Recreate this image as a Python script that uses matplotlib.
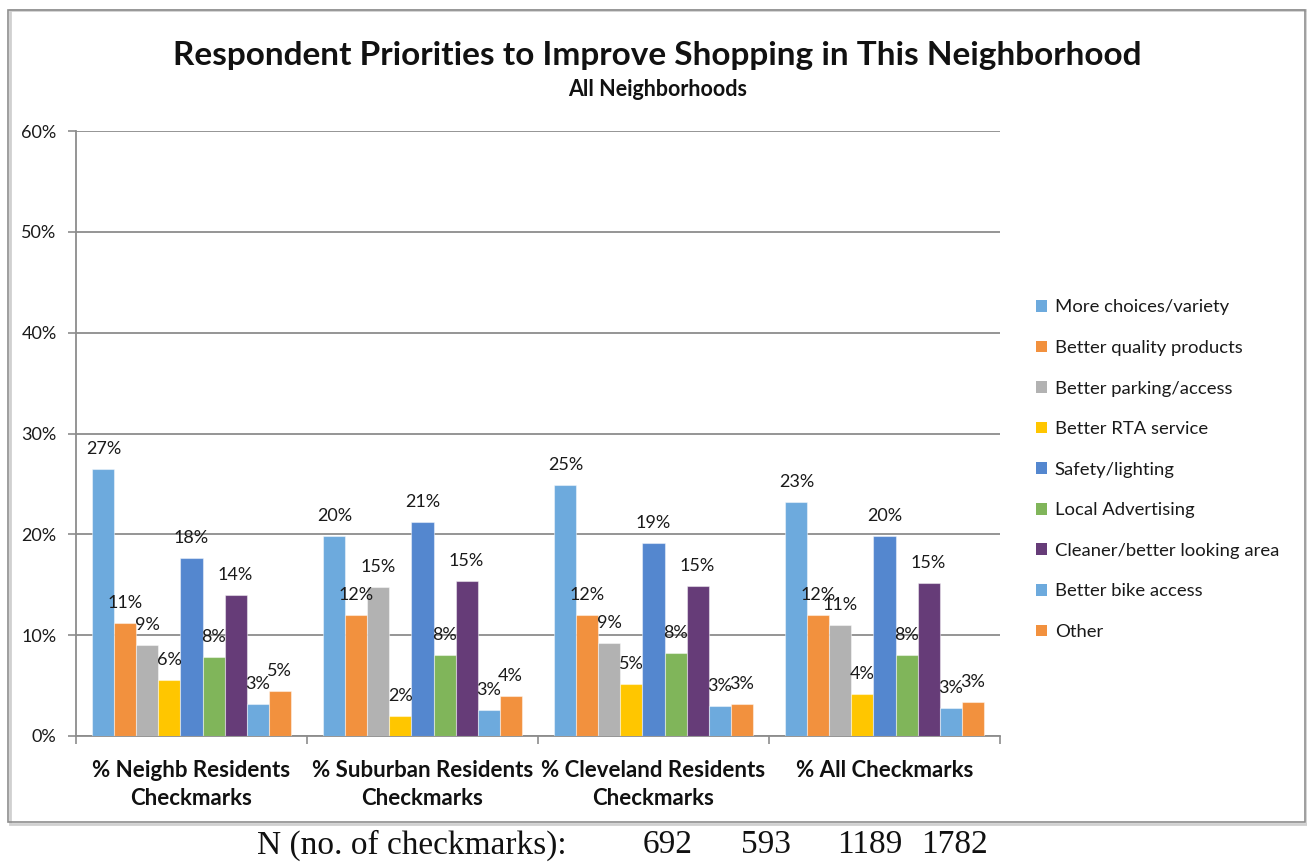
import math
import matplotlib
matplotlib.use("Agg")
import matplotlib.pyplot as plt
from matplotlib.patches import Rectangle, Patch
from matplotlib.ticker import FuncFormatter, FixedLocator

plt.rcParams['font.family'] = ['Lato', 'DejaVu Sans']

# ---- data -------------------------------------------------------------
groups = ["% Neighb Residents\nCheckmarks",
          "% Suburban Residents\nCheckmarks",
          "% Cleveland Residents\nCheckmarks",
          "% All Checkmarks"]

series = ["More choices/variety", "Better quality products", "Better parking/access",
          "Better RTA service", "Safety/lighting", "Local Advertising",
          "Cleaner/better looking area", "Better bike access", "Other"]

more_choices   = [26.5, 19.8, 24.9, 23.2]
better_quality = [11.2, 12.0, 12.0, 12.0]
better_parking = [9.0, 14.8, 9.2, 11.0]
better_rta     = [5.6, 2.0, 5.2, 4.2]
safety         = [17.7, 21.2, 19.1, 19.8]
local_adv      = [7.8, 8.0, 8.2, 8.0]
cleaner        = [14.0, 15.4, 14.9, 15.2]
bike_access    = [3.2, 2.6, 3.0, 2.8]
other          = [4.5, 4.0, 3.2, 3.4]

values = [more_choices, better_quality, better_parking, better_rta, safety,
          local_adv, cleaner, bike_access, other]

colors = ["#6DAADD", "#F2913E", "#B2B2B2", "#FFC600", "#5487CF",
          "#80B55A", "#663C78", "#6DAADD", "#F2913E"]

n_label = "N (no. of checkmarks):"
n_counts = ["692", "593", "1189", "1782"]
y_ticks = [0, 10, 20, 30, 40, 50, 60]

# ---- figure ------------------------------------------------------------
W, H = 1307, 867
fig = plt.figure(figsize=(W / 100, H / 100), dpi=100)
fig.patch.set_facecolor("white")

def fx(px):
    return px / W

def fy(py):
    return 1 - py / H

# outer chart frame
fig.add_artist(Rectangle((fx(10), fy(824)), fx(1297), 814 / H,
                         transform=fig.transFigure, fill=False,
                         edgecolor="#d0d0d0", lw=2.0, zorder=0))
fig.add_artist(Rectangle((fx(8), fy(822)), fx(1297), 812 / H,
                         transform=fig.transFigure, fill=False,
                         edgecolor="#8e8e8e", lw=1.2, zorder=1))

ax_left, ax_right, ax_top, ax_bot = 76, 1000, 131, 736
ax = fig.add_axes([fx(ax_left), fy(ax_bot), fx(ax_right - ax_left),
                   (ax_bot - ax_top) / H])

n_series = len(series)
bar_w = 0.0953
for i, (vals, col) in enumerate(zip(values, colors)):
    xs = [g + (i - (n_series - 1) / 2) * bar_w for g in range(len(groups))]
    ax.bar(xs, vals, width=bar_w, color=col, edgecolor=(1, 1, 1, 0.45),
           linewidth=0.8, zorder=3)
    for x, v in zip(xs, vals):
        ax.annotate(f"{math.floor(v + 0.5):d}%", (x, v), xytext=(0, 14.4),
                    textcoords="offset points", ha="center", va="center",
                    fontsize=13, color="#1a1a1a", zorder=4)

ax.set_xlim(-0.5, len(groups) - 0.5)
ax.set_ylim(0, 60)
ax.yaxis.set_major_locator(FixedLocator(y_ticks))
ax.yaxis.set_major_formatter(FuncFormatter(lambda v, p: f"{v:.0f}%"))
ax.grid(axis="y", color="#8c8c8c", lw=1.3, zorder=0)
ax.set_axisbelow(True)

for s in ("top", "right"):
    ax.spines[s].set_visible(False)
for s in ("left", "bottom"):
    ax.spines[s].set_color("#8c8c8c")
    ax.spines[s].set_linewidth(1.3)

ax.tick_params(axis="y", direction="out", length=6, width=1.2, color="#8c8c8c",
               labelsize=13, labelcolor="#1a1a1a", pad=8)
ax.set_xticks(range(len(groups)))
ax.set_xticklabels(groups, fontsize=16, fontweight="bold", linespacing=1.45,
                   color="#111111")
ax.tick_params(axis="x", which="major", length=0, pad=17)
ax.set_xticks([g - 0.5 for g in range(len(groups) + 1)], minor=True)
ax.tick_params(axis="x", which="minor", direction="out", length=6, width=1.2,
               color="#8c8c8c")

# titles
fig.text(fx(657), fy(55), "Respondent Priorities to Improve Shopping in This Neighborhood",
         ha="center", va="center", fontsize=24, fontweight="bold", color="#111111")
fig.text(fx(658), fy(89), "All Neighborhoods", ha="center", va="center",
         fontsize=15.5, fontweight="bold", color="#111111")

# legend
handles = [Patch(facecolor=c, edgecolor="none") for c in colors]
fig.legend(handles, series, loc="upper left",
           bbox_to_anchor=(fx(1029), fy(292)), frameon=False, fontsize=13.3,
           handlelength=0.6, handleheight=0.6, handletextpad=0.4,
           labelspacing=1.33, borderaxespad=0, labelcolor="#1a1a1a")

# counts line beneath the frame
fig.text(fx(257), fy(845), n_label, ha="left", va="center",
         fontsize=24, family="Liberation Serif", color="#111111")
for x, t in zip([668, 766, 870, 955], n_counts):
    fig.text(fx(x), fy(845), t, ha="center", va="center", fontsize=24,
             family="Liberation Serif", color="#111111")

fig.savefig("out.png", dpi=100, facecolor="white")
